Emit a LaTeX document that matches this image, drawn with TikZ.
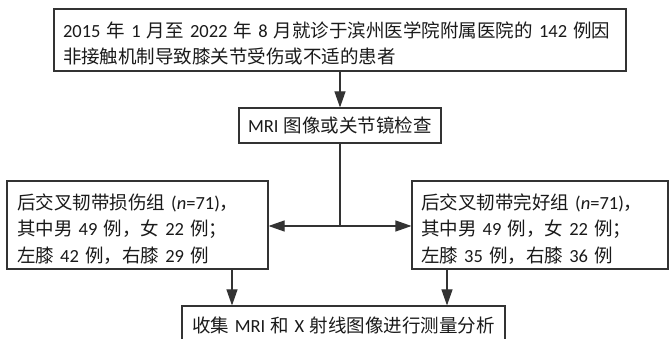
\documentclass[tikz,border=0pt]{standalone}
\usepackage{fontspec}
\setmainfont{Carlito}[WordSpace=1.3]
\newfontfamily\cjk{Noto Sans CJK SC}
\newcommand\Z[1]{{\cjk #1}}
\newcommand\topstrut[1]{\rule{0pt}{#1}}
\usetikzlibrary{arrows.meta}
\definecolor{ln}{HTML}{333333}
\definecolor{tx}{HTML}{1A1A1A}
\tikzset{
  box/.style={draw=ln, line width=1.1pt, rectangle, inner ysep=0pt, text=tx,
    font=\fontsize{18.5}{26.5}\selectfont},
  lbox/.style={box, align=left, inner xsep=0pt},
  arr/.style={draw=ln, line width=1.1pt, -{Triangle[length=16pt,width=11pt]}},
  conn/.style={draw=ln, line width=1.1pt}
}
\begin{document}
\begin{tikzpicture}[x=1pt,y=1pt]
\useasboundingbox (0,0) rectangle (670,-339);
\clip (0,0) rectangle (670,-339);
\fill[white] (0,0) rectangle (670,-339);
% top box
\node[lbox, minimum width=572pt, minimum height=62pt, text width=554pt,
  font=\fontsize{18.5}{26}\selectfont] (top) at (340,-40)
  {\topstrut{23pt}2015 \Z{年} 1 \Z{月至} 2022 \Z{年} 8 \Z{月就诊于滨州医学院附属医院的} 142 \Z{例因}\\
   \Z{非接触机制导致膝关节受伤或不适的患者}};
% MRI box
\node[box, minimum width=202pt, minimum height=35pt, align=center] (mri) at (340,-125.5)
  {MRI \Z{图像或关节镜检查}};
% left box
\node[lbox, minimum width=261pt, minimum height=88pt, text width=241pt,
  font=\fontsize{18.5}{26.5}\selectfont] (lb) at (137.5,-225)
  {\topstrut{23pt}\Z{后交叉韧带损伤组} (\textit{n}=71)\Z{，}\\
   \Z{其中男} 49 \Z{例，女} 22 \Z{例；}\\
   \Z{左膝} 42 \Z{例，右膝} 29 \Z{例}};
% right box
\node[lbox, minimum width=256pt, minimum height=88pt, text width=238pt,
  font=\fontsize{18.5}{26.5}\selectfont] (rb) at (540,-225)
  {\topstrut{23pt}\Z{后交叉韧带完好组} (\textit{n}=71)\Z{，}\\
   \Z{其中男} 49 \Z{例，女} 22 \Z{例；}\\
   \Z{左膝} 35 \Z{例，右膝} 36 \Z{例}};
% bottom box
\node[box, minimum width=323pt, minimum height=39pt, align=center] (bb) at (343.5,-325.5)
  {\Z{收集} MRI \Z{和} X \Z{射线图像进行测量分析}};
% connectors
\coordinate (j) at (340,-226);
\coordinate (la) at (232,0);
\coordinate (ra) at (447,0);
\draw[arr] (top.south) -- (mri.north);
\draw[conn] (mri.south) -- (j);
\draw[arr] (j) -- (lb.east |- j);
\draw[arr] (j) -- (rb.west |- j);
\draw[arr] (lb.south -| la) -- (bb.north -| la);
\draw[arr] (rb.south -| ra) -- (bb.north -| ra);
\end{tikzpicture}
\end{document}
